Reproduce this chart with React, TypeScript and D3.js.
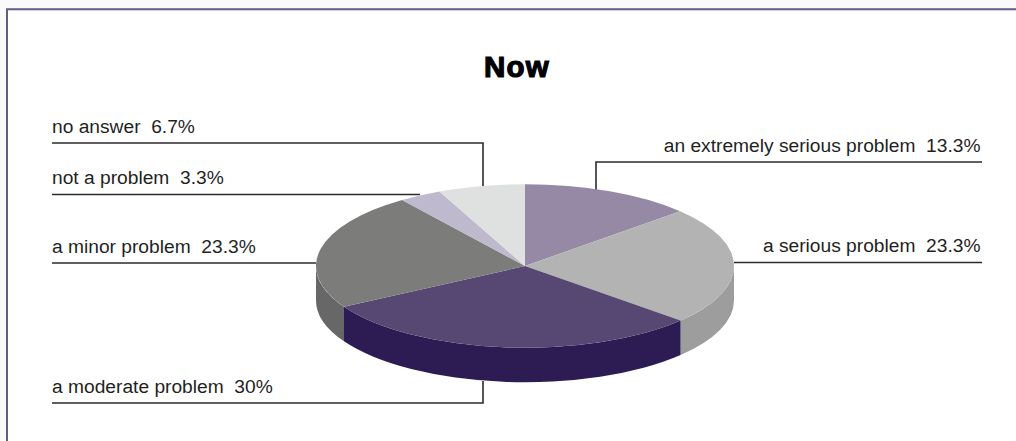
import React from "react";
import * as d3 from "d3";

const categories = [
  "an extremely serious problem",
  "a serious problem",
  "a moderate problem",
  "a minor problem",
  "not a problem",
  "no answer",
];
const values = [13.3, 23.3, 30, 23.3, 3.3, 6.7];
const valueLabels = ["13.3%", "23.3%", "30%", "23.3%", "3.3%", "6.7%"];
const topColors = ["#9689a6", "#b3b3b3", "#564872", "#7c7d7b", "#beb9cc", "#dfe1e0"];
const sideColors = ["#786b8a", "#9d9d9d", "#2d1b54", "#666766", "#9f9ab0", "#c0c2c1"];

const width = 1016;
const height = 441;
const cx = 525;
const cy = 266;
const rx = 209;
const ry = 81.7;
const depth = 34.5;

const pie = d3.pie<number>().sort(null).value((d) => d);
const slices = pie(values);
const arc = d3.arc<d3.PieArcDatum<number>>().innerRadius(0).outerRadius(rx);

// d3 angles start at 12 o'clock and go clockwise
const px = (a: number) => cx + rx * Math.sin(a);
const py = (a: number) => cy - ry * Math.cos(a);

function wall(start: number, end: number) {
  const a0 = Math.max(start, Math.PI / 2);
  const a1 = Math.min(end, (3 * Math.PI) / 2);
  if (a1 <= a0) return null;
  return (
    `M${px(a0)},${py(a0)}` +
    `A${rx},${ry} 0 0 1 ${px(a1)},${py(a1)}` +
    `L${px(a1)},${py(a1) + depth}` +
    `A${rx},${ry} 0 0 0 ${px(a0)},${py(a0) + depth}Z`
  );
}

// leader lines, one per label: y of the rule, then where it meets the pie
const lineStyle = { fill: "none", stroke: "#2b2b2b", strokeWidth: 1.6 };
const leftX = 52;
const rightX = 982;
const labelRows = [
  { i: 0, y: 162, anchor: "end", path: `M${rightX},162H596V190` },
  { i: 1, y: 262.5, anchor: "end", path: `M${rightX},262.5H734` },
  { i: 2, y: 403, anchor: "start", path: `M${leftX},403H483V381` },
  { i: 3, y: 263, anchor: "start", path: `M${leftX},263H316` },
  { i: 4, y: 194.5, anchor: "start", path: `M${leftX},194.5H420` },
  { i: 5, y: 143, anchor: "start", path: `M${leftX},143H483V186` },
];

export default function App() {
  return (
    <svg
      width={width}
      height={height}
      style={{ position: "absolute", left: 0, top: 0 }}
      fontFamily="'Liberation Sans', Arial, sans-serif"
    >
      <rect x={0} y={0} width={width} height={height} fill="#ffffff" />
      <rect x={0} y={0} width={width} height={9} fill="#fafafa" />
      <rect x={0} y={0} width={7} height={height} fill="#fafafa" />
      <path d={`M${width},9.2H7V${height}`} fill="none" stroke="#655a85" strokeWidth={2} />

      <text
        x={484}
        y={76.5}
        fontSize={29.5}
        fontWeight="bold"
        letterSpacing={1.2}
        stroke="#000"
        strokeWidth={1.2}
        fill="#000"
      >
        Now
      </text>

      {labelRows.map((r) => (
        <path key={r.i} d={r.path} {...lineStyle} />
      ))}

      {slices.map((s, i) => {
        const d = wall(s.startAngle, s.endAngle);
        return d ? <path key={i} d={d} fill={sideColors[i]} /> : null;
      })}

      <g transform={`translate(${cx},${cy}) scale(1,${ry / rx})`}>
        {slices.map((s, i) => (
          <path key={i} d={arc(s) ?? ""} fill={topColors[i]} />
        ))}
      </g>

      {labelRows.map((r) => (
        <text
          key={r.i}
          x={r.anchor === "end" ? rightX - 1.5 : leftX}
          y={r.y - 10.5}
          textAnchor={r.anchor as "start" | "end"}
          fontSize={19.2}
          fill="#1f1f1f"
          style={{ whiteSpace: "pre" }}
        >
          {`${categories[r.i]}  ${valueLabels[r.i]}`}
        </text>
      ))}
    </svg>
  );
}
